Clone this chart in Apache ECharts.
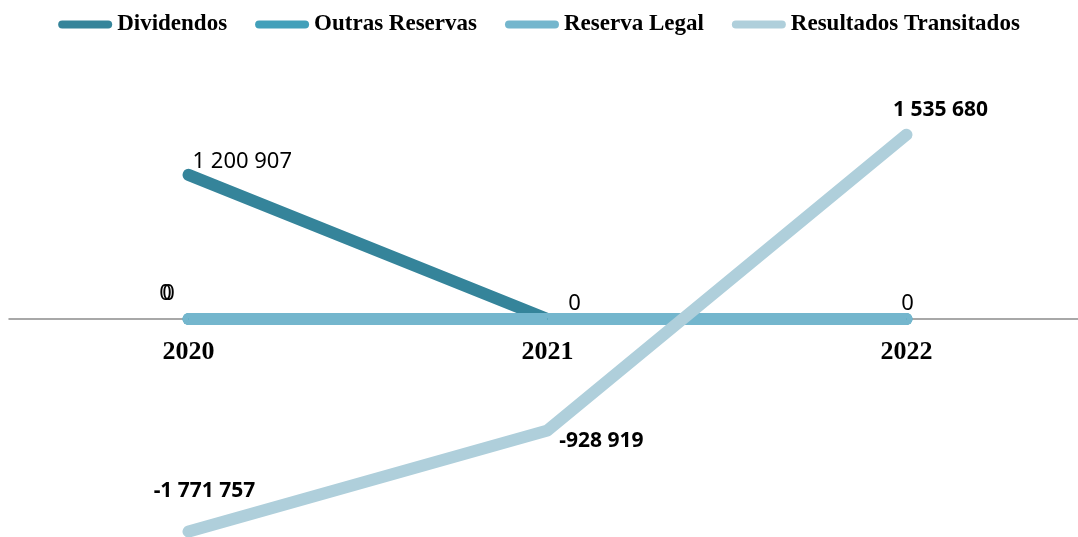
<!DOCTYPE html>
<html><head><meta charset="utf-8">
<script src="https://cdn.jsdelivr.net/npm/echarts@6/dist/echarts.min.js"></script>
<style>html,body{margin:0;padding:0;background:#fff}#c{width:1078px;height:537px}</style>
</head><body><div id="c"></div>
<script>
const categories = ['2020', '2021', '2022'];
const dividendos = [1200907, 0, null];
const outrasReservas = [0, 0, 0];
const reservaLegal = [0, 0, 0];
const resultadosTransitados = [-1771757, -928919, 1535680];
const seriesNames = ['Dividendos', 'Outras Reservas', 'Reserva Legal', 'Resultados Transitados'];
const colors = ['#35849A', '#42A0BA', '#74B6CD', '#AFCFDB'];

function fmt(v) {
  const s = Math.abs(v).toString().replace(/\B(?=(\d{3})+(?!\d))/g, ' ');
  return (v < 0 ? '-' : '') + s;
}
const normalLbl = { fontFamily: 'Noto Sans', fontSize: 22, color: '#000' };
const boldLbl = { fontFamily: 'Noto Sans', fontSize: 21, fontWeight: 'bold', color: '#000' };

function pt(value, lbl) {
  if (!lbl) return { value: value, label: { show: false } };
  return { value: value, label: Object.assign({ show: true, position: 'inside', align: 'center', verticalAlign: 'middle', formatter: () => fmt(value) }, lbl) };
}

const chart = echarts.init(document.getElementById('c'));
function mk(i, data) {
  return {
    type: 'line', name: seriesNames[i], color: colors[i],
    symbol: 'circle', symbolSize: 1, showSymbol: true,
    itemStyle: { color: colors[i] },
    lineStyle: { width: 12, color: colors[i], cap: 'round', join: 'round' },
    silent: true, data: data
  };
}
chart.setOption({
  animation: false,
  legend: {
    top: 8, left: 'center', itemGap: 28, itemWidth: 54, itemHeight: 8,
    icon: 'path://M4,0 H50 A4,4 0 0 1 50,8 H4 A4,4 0 0 1 4,0 Z',
    textStyle: { fontFamily: 'Liberation Serif', fontWeight: 'bold', fontSize: 23, color: '#000' },
    data: seriesNames
  },
  grid: { left: 9, width: 1077, top: 103, height: 432, outerBoundsMode: 'none', containLabel: false },
  xAxis: {
    type: 'category', data: categories,
    axisLine: { onZero: true, lineStyle: { color: '#8c8c8c', width: 1.5 } },
    axisTick: { show: false },
    axisLabel: { margin: -196, fontFamily: 'Liberation Serif', fontWeight: 'bold', fontSize: 26, color: '#000' }
  },
  yAxis: {
    type: 'value', min: -1800000, max: 1800000,
    axisLine: { show: false }, axisTick: { show: false }, axisLabel: { show: false },
    splitLine: { show: false }
  },
  series: [
    mk(0, [
      pt(dividendos[0], Object.assign({ align: 'left', offset: [4, -13] }, normalLbl)),
      pt(dividendos[1], Object.assign({ offset: [27, -15] }, normalLbl)),
      dividendos[2]
    ]),
    mk(1, [
      pt(outrasReservas[0], Object.assign({ offset: [-23, -25] }, normalLbl)),
      pt(outrasReservas[1]),
      pt(outrasReservas[2])
    ]),
    mk(2, [
      pt(reservaLegal[0], Object.assign({ offset: [-20, -25] }, normalLbl)),
      pt(reservaLegal[1]),
      pt(reservaLegal[2], Object.assign({ offset: [1, -15] }, normalLbl))
    ]),
    mk(3, [
      pt(resultadosTransitados[0], Object.assign({ offset: [16, -41] }, boldLbl)),
      pt(resultadosTransitados[1], Object.assign({ offset: [54, 11] }, boldLbl)),
      pt(resultadosTransitados[2], Object.assign({ offset: [34, -25] }, boldLbl))
    ])
  ]
});
</script></body></html>
